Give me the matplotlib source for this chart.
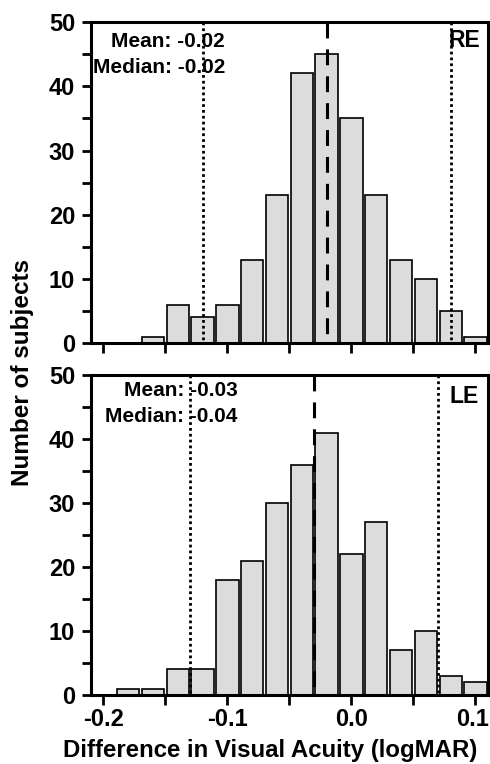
import matplotlib
matplotlib.use("Agg")
import matplotlib.pyplot as plt
import matplotlib.transforms as mtransforms
from matplotlib.ticker import MultipleLocator, FixedLocator

plt.rcParams["font.family"] = ["Liberation Sans", "DejaVu Sans"]
plt.rcParams["font.weight"] = "bold"

# bin centres (logMAR) and counts
re_bins = [-0.16, -0.14, -0.12, -0.10, -0.08, -0.06, -0.04, -0.02,
           0.00, 0.02, 0.04, 0.06, 0.08, 0.10]
re_counts = [1, 6, 4, 6, 13, 23, 42, 45, 35, 23, 13, 10, 5, 1]

le_bins = [-0.18, -0.16, -0.14, -0.12, -0.10, -0.08, -0.06, -0.04,
           -0.02, 0.00, 0.02, 0.04, 0.06, 0.08, 0.10]
le_counts = [1, 1, 4, 4, 18, 21, 30, 36, 41, 22, 27, 7, 10, 3, 2]

# median (dashed) and limits of agreement (dotted)
re_median = -0.02
re_limits = [-0.12, 0.08]
le_median = -0.03
le_limits = [-0.13, 0.07]

re_text = ["Mean: -0.02", "Median: -0.02"]
le_text = ["Mean: -0.03", "Median: -0.04"]

x_ticks = [-0.2, -0.1, 0.0, 0.1]
x_ticklabels = ["-0.2", "-0.1", "0.0", "0.1"]


def draw_panel(fig, ax, bins, counts, median, limits, texts, eye, tpos, show_xlabels):
    ax.bar(bins, counts, width=0.018, color="#dcdcdc", edgecolor="black",
           linewidth=1.2, zorder=2)
    # drawn top -> bottom so the dash pattern starts at the top spine
    ax.axvline(median, ymin=1, ymax=0, color="black", linewidth=2.2,
               linestyle=(0, (5.2, 3.6)), dash_capstyle="butt", zorder=3)
    for lim in limits:
        ax.axvline(lim, ymin=1, ymax=0, color="black", linewidth=2.0,
                   linestyle=(0, (1, 1.1)), dash_capstyle="butt", zorder=3)

    ax.set_xlim(-0.21, 0.11)
    ax.set_ylim(0, 50)
    ax.yaxis.set_major_locator(MultipleLocator(10))
    ax.yaxis.set_minor_locator(MultipleLocator(5))
    ax.xaxis.set_major_locator(FixedLocator(x_ticks))
    ax.xaxis.set_minor_locator(MultipleLocator(0.05))
    if show_xlabels:
        ax.set_xticklabels(x_ticklabels)
    else:
        ax.set_xticklabels([])

    for s in ax.spines.values():
        s.set_linewidth(2.2)
    ax.tick_params(which="both", direction="out", length=6.5, width=2.0,
                   labelsize=17)
    ax.tick_params(axis="x", which="both", length=7)
    ax.tick_params(axis="y", pad=5)
    ax.tick_params(axis="x", pad=2)
    for lab in ax.get_xticklabels() + ax.get_yticklabels():
        lab.set_fontweight("bold")
    if show_xlabels:
        # nudge the last label so it stays inside the figure
        last = ax.get_xticklabels()[-1]
        shift = mtransforms.ScaledTranslation(-3 / 100, 0, fig.dpi_scale_trans)
        last.set_transform(last.get_transform() + shift)

    mx, my1, my2 = tpos[0], tpos[1], tpos[2]
    ax.text(mx, my1, texts[0], transform=ax.transAxes, ha="right",
            va="center", fontsize=15, fontweight="bold", zorder=4)
    ax.text(mx, my2, texts[1], transform=ax.transAxes, ha="right",
            va="center", fontsize=15, fontweight="bold", zorder=4)
    ax.text(tpos[3], tpos[4], eye, transform=ax.transAxes, ha="right",
            va="center", fontsize=16.5, fontweight="bold", zorder=4)


def main():
    fig = plt.figure(figsize=(4.9, 7.64), dpi=100)
    ax_top = fig.add_axes([0.1857, 0.551, 0.810, 0.420])
    ax_bot = fig.add_axes([0.1857, 0.0903, 0.810, 0.419])

    draw_panel(fig, ax_top, re_bins, re_counts, re_median, re_limits, re_text,
               "RE", (0.3375, 0.941, 0.860, 0.980, 0.944), False)
    draw_panel(fig, ax_bot, le_bins, le_counts, le_median, le_limits, le_text,
               "LE", (0.370, 0.950, 0.869, 0.977, 0.934), True)

    fig.text(0.045, 0.5124, "Number of subjects", rotation=90, ha="center",
             va="center", fontsize=17.5, fontweight="bold")
    fig.text(0.551, 0.002, "Difference in Visual Acuity (logMAR)",
             ha="center", va="bottom", fontsize=17.3, fontweight="bold")

    fig.savefig("out.png", dpi=100)


if __name__ == "__main__":
    main()
